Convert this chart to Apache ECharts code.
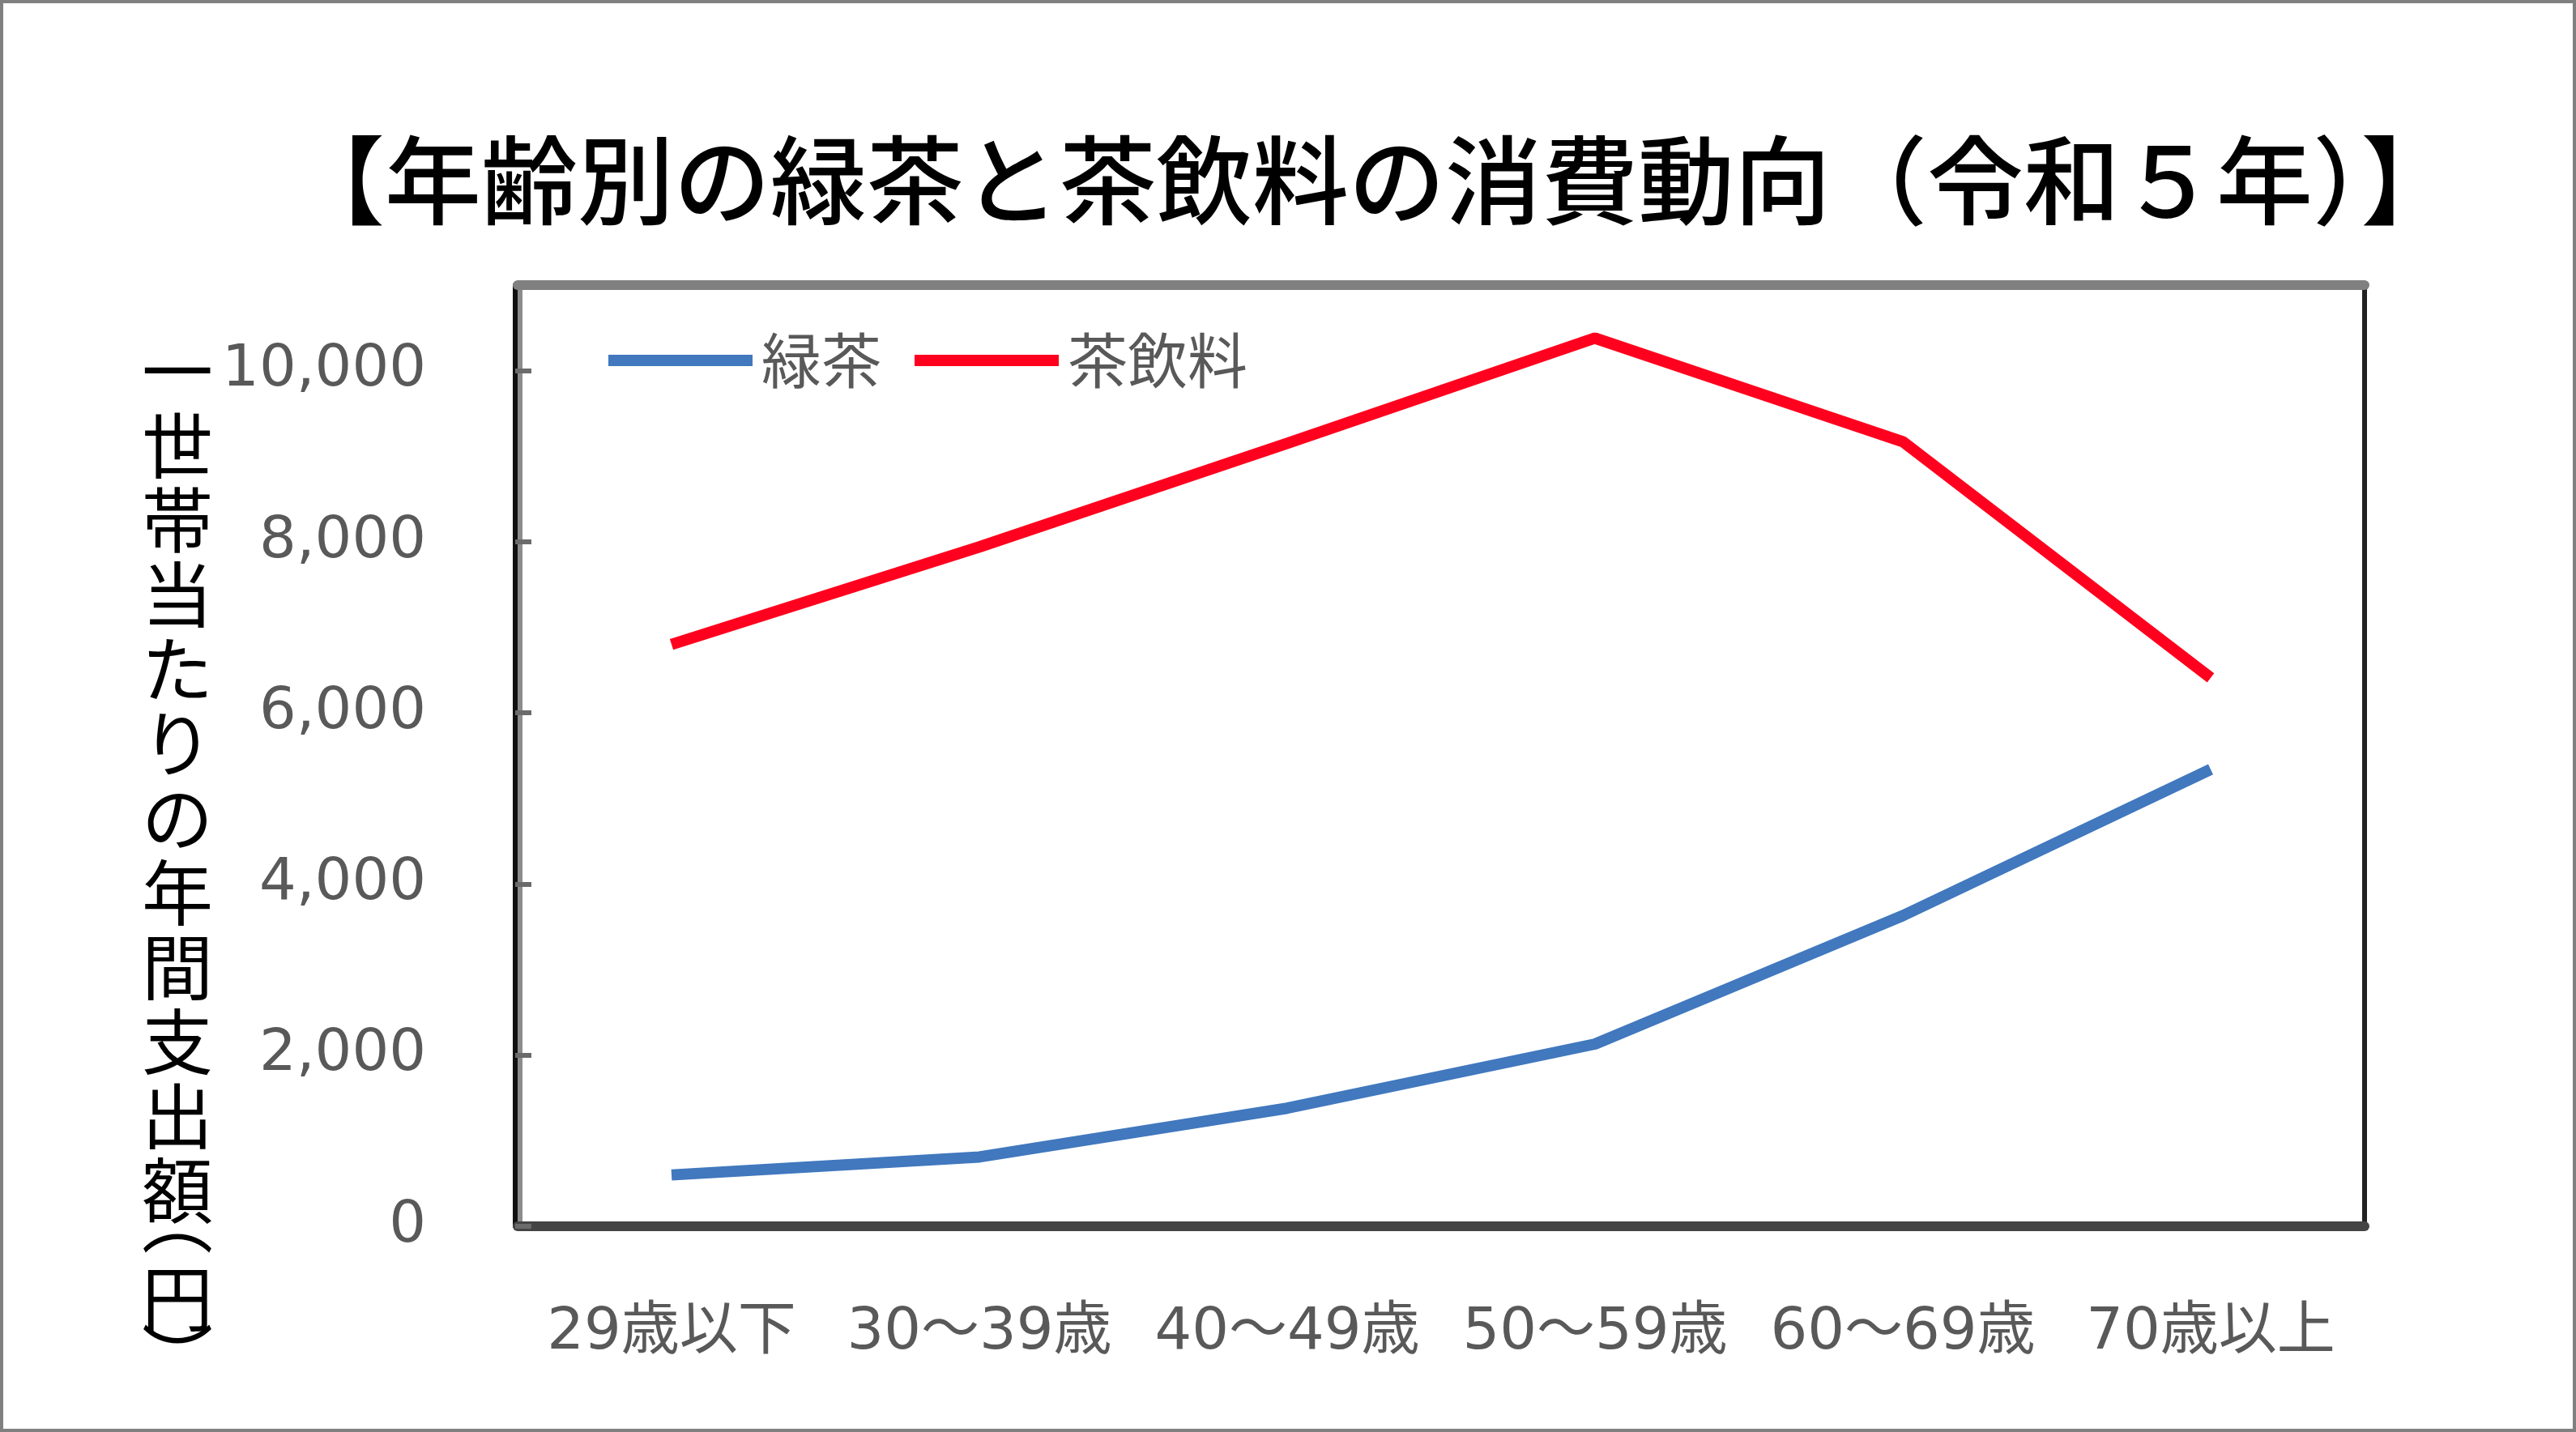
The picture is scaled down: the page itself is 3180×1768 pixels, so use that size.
<!DOCTYPE html>
<html><head><meta charset="utf-8">
<script src="https://cdn.jsdelivr.net/npm/echarts@6/dist/echarts.min.js"></script>
<style>html,body{margin:0;padding:0;background:#fff}#c{width:3180px;height:1768px}</style>
</head><body><div id="c"></div>
<script>
const categories = ['29歳以下', '30～39歳', '40～49歳', '50～59歳', '60～69歳', '70歳以上'];
const greenTea = [600, 810, 1380, 2130, 3630, 5340];
const teaDrinks = [6800, 7940, 9150, 10380, 9170, 6410];
const yTicks = [0, 2000, 4000, 6000, 8000, 10000];
const seriesNames = ['緑茶', '茶飲料'];
const titleText = '【年齢別の緑茶と茶飲料の消費動向（令和５年）】';
const yNameChars = ['一', '世', '帯', '当', 'た', 'り', 'の', '年', '間', '支', '出', '額', '{s| }', '円', '{s| }'];
const yNameParens = ['︵', '︶'];

const chart = echarts.init(document.getElementById('c'), null, {renderer: 'canvas'});
const labelFont = 'DejaVu Sans, Noto Sans CJK JP, sans-serif';
const cjkFont = 'Noto Sans CJK JP, sans-serif';

chart.setOption({
  backgroundColor: '#ffffff',
  animation: false,
  title: {
    text: titleText, left: 356, top: 163, padding: 0,
    textStyle: {fontSize: 119, fontWeight: 500, color: '#000000', fontFamily: cjkFont}
  },
  legend: {
    data: seriesNames, left: 751, top: 408, padding: 0,
    itemWidth: 178, itemHeight: 14, itemGap: 41, icon: 'rect',
    textStyle: {fontSize: 74, color: '#595959', fontFamily: cjkFont, padding: [0, 0, 0, 6]}
  },
  grid: {left: 639, right: 261, top: 352, bottom: 254, show: false},
  xAxis: [{
    type: 'category', data: categories, boundaryGap: true,
    axisLine: {onZero: false, lineStyle: {color: '#444444', width: 12}},
    axisTick: {show: false},
    axisLabel: {interval: 0, fontSize: 72, color: '#595959', margin: 96, fontFamily: labelFont},
    splitLine: {show: false}
  }, {
    type: 'category', data: categories, position: 'top', boundaryGap: true,
    axisLine: {onZero: false, lineStyle: {color: '#808080', width: 12}},
    axisTick: {show: false}, axisLabel: {show: false}, splitLine: {show: false}
  }],
  yAxis: [{
    type: 'value', min: 0, max: 11000, position: 'left', offset: 3,
    axisLine: {show: true, onZero: false, lineStyle: {color: '#111111', width: 6}},
    axisTick: {show: true, inside: true, length: 20, customValues: yTicks, lineStyle: {color: '#6b6b6b', width: 6}},
    axisLabel: {customValues: yTicks, formatter: v => v.toLocaleString('en-US'), fontSize: 72, color: '#595959', margin: 110, fontFamily: labelFont},
    splitLine: {show: false},
    name: yNameChars.join('\n'),
    nameLocation: 'middle', nameRotate: 0, nameGap: 417,
    nameTextStyle: {
      fontSize: 88, lineHeight: 92, color: '#000000', fontFamily: cjkFont,
      align: 'center', verticalAlign: 'middle', padding: [236, 0, 0, 0],
      rich: {s: {fontSize: 20, lineHeight: 41}}
    }
  }, {
    type: 'value', min: 0, max: 11000, position: 'left', offset: -3,
    axisLine: {show: true, onZero: false, lineStyle: {color: '#8c8c8c', width: 6}},
    axisTick: {show: false}, axisLabel: {show: false}, splitLine: {show: false}
  }, {
    type: 'value', min: 0, max: 11000, position: 'right',
    axisLine: {show: true, onZero: false, lineStyle: {color: '#222222', width: 6}},
    axisTick: {show: false}, axisLabel: {show: false}, splitLine: {show: false}
  }],
  series: [{
    name: seriesNames[0], type: 'line', data: greenTea, symbol: 'none',
    lineStyle: {color: '#4178BE', width: 14}, itemStyle: {color: '#4178BE'}
  }, {
    name: seriesNames[1], type: 'line', data: teaDrinks, symbol: 'none',
    lineStyle: {color: '#FF001E', width: 14}, itemStyle: {color: '#FF001E'}
  }],
  graphic: [{
    type: 'rect', shape: {x: 2, y: 2, width: 3176, height: 1764},
    style: {fill: 'none', stroke: '#808080', lineWidth: 4}, silent: true
  }, {
    type: 'text', x: 219, y: 1506, silent: true,
    style: {text: yNameParens[0], fontSize: 88, fontFamily: cjkFont, fill: '#000000', align: 'center', verticalAlign: 'middle'}
  }, {
    type: 'text', x: 219, y: 1676, silent: true,
    style: {text: yNameParens[1], fontSize: 88, fontFamily: cjkFont, fill: '#000000', align: 'center', verticalAlign: 'middle'}
  }]
});
</script>
</body></html>
